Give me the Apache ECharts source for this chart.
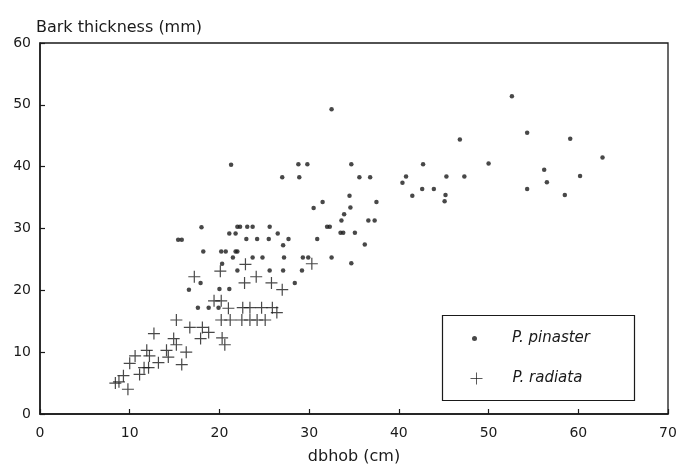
<!DOCTYPE html>
<html>
<head>
<meta charset="utf-8">
<script src="https://cdn.jsdelivr.net/npm/echarts@6/dist/echarts.min.js"></script>
<style>
  html, body { margin: 0; padding: 0; background: #fff; }
  #chart { width: 680px; height: 470px; }
</style>
</head>
<body>
<div id="chart"></div>
<script>
const FONT_FAMILY = "'DejaVu Sans', 'Liberation Sans', sans-serif"
const INK = '#1a1a1a'

// P. pinaster: dbhob (cm) and bark thickness (mm)
const pinasterX = [
  21.3, 28.8, 29.8, 27.0, 28.9, 30.5, 18.0, 22.0, 22.3, 23.1, 23.7, 25.6,
  21.1, 21.8, 26.5, 15.4, 15.8, 23.0, 24.2, 25.5, 27.7, 30.9, 27.1, 18.2,
  20.2, 20.7, 21.8, 22.0, 21.5, 23.7, 24.8, 27.2, 29.3, 29.9, 20.3, 22.0,
  25.6, 27.1, 29.2, 17.9, 28.4, 16.6, 20.0, 21.1, 17.6, 18.8, 19.9,
  32.5, 34.7, 35.6, 36.8, 40.8, 40.4, 41.5, 34.5, 31.5, 37.5, 34.6, 33.9,
  33.6, 36.6, 37.3, 32.0, 32.3, 33.5, 33.8, 35.1, 36.2, 32.5, 34.7,
  52.6, 54.3, 46.8, 59.1, 62.7, 42.7, 50.0, 56.2, 45.3, 47.3, 60.2, 56.5,
  42.6, 43.9, 54.3, 45.2, 58.5, 45.1
]
const pinasterY = [
  40.3, 40.4, 40.4, 38.3, 38.3, 33.3, 30.2, 30.3, 30.3, 30.3, 30.3, 30.3,
  29.2, 29.2, 29.2, 28.2, 28.2, 28.3, 28.3, 28.3, 28.3, 28.3, 27.3, 26.3,
  26.3, 26.3, 26.3, 26.3, 25.3, 25.3, 25.3, 25.3, 25.3, 25.3, 24.3, 23.2,
  23.2, 23.2, 23.2, 21.2, 21.2, 20.1, 20.2, 20.2, 17.2, 17.2, 17.2,
  49.3, 40.4, 38.3, 38.3, 38.4, 37.4, 35.3, 35.3, 34.3, 34.3, 33.4, 32.3,
  31.3, 31.3, 31.3, 30.3, 30.3, 29.3, 29.3, 29.3, 27.4, 25.3, 24.4,
  51.4, 45.5, 44.4, 44.5, 41.5, 40.4, 40.5, 39.5, 38.4, 38.4, 38.5, 37.5,
  36.4, 36.4, 36.4, 35.4, 35.4, 34.4
]

// P. radiata
const radiataX = [
  22.9, 20.1, 17.2, 24.1, 22.8, 25.8, 27.0, 30.3, 19.4, 20.2, 21.0, 22.6,
  23.4, 24.7, 25.9, 26.4, 15.2, 20.2, 21.2, 22.5, 23.4, 24.2, 25.1, 16.7,
  18.1, 12.7, 18.8, 17.9, 20.3, 14.9, 15.2, 20.6, 11.9, 14.1, 16.3, 10.6,
  12.2, 14.3, 13.2, 10.0, 15.8, 11.6, 12.1, 11.1, 9.3, 8.8, 8.4, 9.8
]
const radiataY = [
  24.2, 23.1, 22.2, 22.2, 21.2, 21.2, 20.1, 24.3, 18.3, 18.3, 17.1, 17.2,
  17.2, 17.2, 17.2, 16.4, 15.2, 15.2, 15.2, 15.2, 15.2, 15.2, 15.2, 14.0,
  14.0, 13.0, 13.2, 12.2, 12.3, 12.2, 11.2, 11.2, 10.3, 10.3, 10.0, 9.4,
  9.4, 9.2, 8.3, 8.2, 8.0, 7.5, 7.5, 6.4, 6.2, 5.2, 5.0, 4.0
]

const SERIES_NAMES = ['P. pinaster', 'P. radiata']
const X_TICKS = { min: 0, max: 70, interval: 10 }
const Y_TICKS = { min: 0, max: 60, interval: 10 }

const CROSS = 'path://M0,6L12,6M6,0L6,12'

const zip = (xs, ys) => xs.map((x, i) => [x, ys[i]])

const chart = echarts.init(document.getElementById('chart'))

const legendText = {
  fontFamily: FONT_FAMILY,
  fontSize: 15,
  fontStyle: 'italic',
  color: INK,
}

chart.setOption({
  animation: false,
  grid: {
    left: 40, right: 12, top: 43, bottom: 52,
    show: true,
    borderColor: INK,
    borderWidth: 1.3,
    backgroundColor: 'transparent',
  },
  graphic: [{
    type: 'rect',
    left: 440, top: 313,
    shape: { width: 192, height: 85 },
    style: { fill: 'none', stroke: INK, lineWidth: 1.2 },
    z: 10,
  }],
  legend: [{
    data: [SERIES_NAMES[0]],
    left: 472, top: 331,
    itemWidth: 5, itemHeight: 5,
    padding: 0,
    textStyle: { ...legendText, padding: [0, 0, 0, 30] },
  }, {
    data: [SERIES_NAMES[1]],
    left: 468, top: 370,
    itemWidth: 12, itemHeight: 12,
    padding: 0,
    itemStyle: { borderWidth: 0.9 },
    textStyle: { ...legendText, padding: [0, 0, 0, 25] },
  }],
  xAxis: {
    type: 'value',
    ...X_TICKS,
    name: 'dbhob (cm)',
    nameLocation: 'middle',
    nameGap: 35,
    nameTextStyle: { fontFamily: FONT_FAMILY, fontSize: 16, color: INK },
    axisLine: { show: true, lineStyle: { color: INK, width: 1.5 } },
    axisTick: { show: true, inside: true, length: 5, lineStyle: { color: INK, width: 1.2 } },
    axisLabel: { fontFamily: FONT_FAMILY, fontSize: 14, color: INK, margin: 12 },
    splitLine: { show: false },
  },
  yAxis: {
    type: 'value',
    ...Y_TICKS,
    name: 'Bark thickness (mm)',
    nameLocation: 'end',
    nameGap: 3,
    nameTextStyle: {
      fontFamily: FONT_FAMILY, fontSize: 16, color: INK,
      align: 'left', padding: [0, 0, 0, -4],
    },
    axisLine: { show: true, lineStyle: { color: INK, width: 1.5 } },
    axisTick: { show: true, inside: true, length: 5, lineStyle: { color: INK, width: 1.2 } },
    axisLabel: { fontFamily: FONT_FAMILY, fontSize: 14, color: INK, margin: 9 },
    splitLine: { show: false },
  },
  series: [{
    name: SERIES_NAMES[0],
    type: 'scatter',
    data: zip(pinasterX, pinasterY),
    symbol: 'circle',
    symbolSize: 4.5,
    itemStyle: { color: INK },
    emphasis: { disabled: true },
  }, {
    name: SERIES_NAMES[1],
    type: 'scatter',
    data: zip(radiataX, radiataY),
    symbol: CROSS,
    symbolSize: 12,
    itemStyle: { color: 'none', borderColor: INK, borderWidth: 1.2 },
    emphasis: { disabled: true },
  }],
})
</script>
</body>
</html>
